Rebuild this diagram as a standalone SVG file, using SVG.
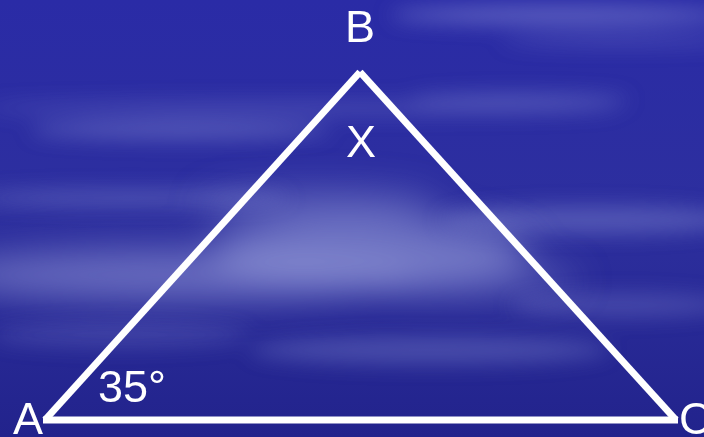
<svg xmlns="http://www.w3.org/2000/svg" width="704" height="437" viewBox="0 0 704 437">
<defs>
<linearGradient id="bg" x1="0" y1="0" x2="0" y2="1">
<stop offset="0" stop-color="#2a2ba6"/>
<stop offset="0.5" stop-color="#2d2f9e"/>
<stop offset="1" stop-color="#22238c"/>
</linearGradient>
<filter id="blur" x="-50%" y="-200%" width="200%" height="500%">
<feGaussianBlur stdDeviation="10"/>
</filter>
<filter id="blur2" x="-50%" y="-200%" width="200%" height="500%">
<feGaussianBlur stdDeviation="18"/>
</filter>
<style>
.edge{stroke:#ffffff;stroke-width:7;stroke-linecap:butt;fill:none}
.lbl{font-family:"Liberation Sans",Arial,sans-serif;font-size:45px;fill:#ffffff}
</style>
</defs>
<g id="background">
<rect width="704" height="437" fill="url(#bg)"/>
<g filter="url(#blur)" fill="#8a90d8">
<ellipse cx="560" cy="15" rx="170" ry="9" opacity="0.55"/>
<ellipse cx="620" cy="40" rx="120" ry="6" opacity="0.3"/>
<ellipse cx="300" cy="108" rx="320" ry="7" opacity="0.3"/>
<ellipse cx="180" cy="130" rx="150" ry="9" opacity="0.45"/>
<ellipse cx="520" cy="100" rx="110" ry="7" opacity="0.35"/>
<ellipse cx="130" cy="198" rx="160" ry="8" opacity="0.4"/>
<ellipse cx="590" cy="220" rx="150" ry="14" opacity="0.4"/>
<ellipse cx="620" cy="305" rx="110" ry="12" opacity="0.3"/>
<ellipse cx="430" cy="350" rx="180" ry="14" opacity="0.35"/>
<ellipse cx="120" cy="335" rx="130" ry="12" opacity="0.25"/>
</g>
<g filter="url(#blur2)" fill="#9aa0dc">
<ellipse cx="180" cy="275" rx="240" ry="26" opacity="0.55"/>
<ellipse cx="370" cy="252" rx="160" ry="34" opacity="0.6"/>
<ellipse cx="320" cy="205" rx="120" ry="16" opacity="0.4"/>
<ellipse cx="470" cy="280" rx="110" ry="18" opacity="0.35"/>
</g>
</g>
<g id="connectors">
<line class="edge" x1="45" y1="420" x2="360" y2="72"/>
<line class="edge" x1="360" y1="72" x2="676" y2="420"/>
<line class="edge" x1="43" y1="420" x2="678" y2="420"/>
</g>
<g id="node-B"><text class="lbl" x="360" y="42" text-anchor="middle">B</text></g>
<g id="node-X"><text class="lbl" x="361" y="157" text-anchor="middle">X</text></g>
<g id="node-A"><text class="lbl" x="13" y="434">A</text></g>
<g id="node-C"><text class="lbl" x="679" y="434">C</text></g>
<g id="angle-A"><text class="lbl" x="98" y="402">35°</text></g>
</svg>
